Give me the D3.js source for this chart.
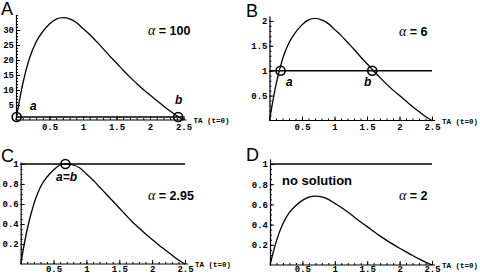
<!DOCTYPE html>
<html><head><meta charset="utf-8">
<script src="https://cdn.jsdelivr.net/npm/d3@7"></script>
<style>
html,body{margin:0;padding:0;background:#fff;}
svg{display:block;}
.tick text{font-family:"Liberation Mono","DejaVu Sans Mono",monospace;font-weight:bold;font-size:9px;fill:#000;}
</style></head>
<body>
<script>
// ---- data ----
const taValues = [0,0.1,0.2,0.3,0.4,0.5,0.6,0.7,0.8,0.9,1.0,1.1,1.2,1.3,1.4,1.5,1.6,1.7,1.8,1.9,2.0,2.1,2.2,2.3,2.4,2.5];
const seriesA = [0,12,20.5,26,29.5,32,33.6,34.1,33.7,32.5,30.5,28.5,26.2,23.8,21.3,19,16.6,14.3,12.2,10.2,8.3,6.5,4.7,3,1.4,0];
const seriesB = [0,0.72,1.23,1.56,1.77,1.92,2.02,2.05,2.02,1.95,1.83,1.71,1.57,1.43,1.28,1.14,1.0,0.86,0.73,0.61,0.5,0.39,0.28,0.18,0.08,0];
const seriesC = [0,0.35,0.6,0.77,0.87,0.94,0.99,1.0,0.99,0.96,0.9,0.84,0.77,0.7,0.63,0.56,0.49,0.42,0.36,0.3,0.245,0.19,0.14,0.09,0.04,0];
const seriesD = [0,0.24,0.41,0.52,0.59,0.64,0.672,0.682,0.674,0.65,0.61,0.57,0.524,0.476,0.426,0.38,0.332,0.286,0.244,0.204,0.166,0.13,0.094,0.06,0.028,0];
const panelLetters = ["A","B","C","D"];
const alphaValues = ["100","6","2.95","2"];
const thresholdValue = 1;
const xTickLabels = [0.5,1,1.5,2,2.5];
const yTicksA = [5,10,15,20,25,30];
const yTicksB = [0.5,1,1.5,2];
const yTicksCD = [0.2,0.4,0.6,0.8,1];
const markersA = [{x:0.01,y:1,t:"a"},{x:2.42,y:1,t:"b"}];
const markersB = [{x:0.17,y:1,t:"a"},{x:1.58,y:1,t:"b"}];
const markersC = [{x:0.68,y:1,t:"a=b"}];
const markersD = [];
const axisTitle = "TA (t=0)";

// ---- layout ----
const W = 480, H = 275;
const svg = d3.select("body").append("svg").attr("width",W).attr("height",H);

const panels = [
  {series:seriesA, yTicks:yTicksA, yMinor:1, yTop:35.2, markers:markersA,
   x0:16, x1:183.5, y0:120, y1:117, yVal1:1, lab:9.5,
   letter:[1,15], alpha:[148,35], mk:[[30,110],[175,104]], extra:null},
  {series:seriesB, yTicks:yTicksB, yMinor:0.1, yTop:2.1, markers:markersB,
   x0:269.5, x1:432, y0:120.5, y1:70.7, yVal1:1, lab:9,
   letter:[246,17], alpha:[399,36], mk:[[286,86],[364,86]], extra:null},
  {series:seriesC, yTicks:yTicksCD, yMinor:0.05, yTop:1.02, markers:markersC,
   x0:20.7, x1:185, y0:264, y1:164, yVal1:1, lab:7.5,
   letter:[1,162], alpha:[148,200], mk:[[56,181]], extra:null},
  {series:seriesD, yTicks:yTicksCD, yMinor:0.05, yTop:1.05, markers:markersD,
   x0:270, x1:432, y0:265, y1:164, yVal1:1, lab:7,
   letter:[246,161], alpha:[399,200], mk:[], extra:{text:"no solution", x:282, y:185}}
];

panels.forEach((p,i)=>{
  const x = d3.scaleLinear().domain([0,2.5]).range([p.x0,p.x1]);
  const pxPerUnit = (p.y0-p.y1)/p.yVal1;
  const y = d3.scaleLinear().domain([0,p.yTop]).range([p.y0, p.y0 - p.yTop*pxPerUnit]);
  const g = svg.append("g");

  // minor ticks x
  const xMinor = d3.range(0.1,2.51,0.1).map(v=>+v.toFixed(2));
  g.append("g").attr("transform",`translate(0,${p.y0})`)
    .call(d3.axisBottom(x).tickValues(xMinor).tickSize(-2).tickSizeOuter(0).tickFormat(""))
    .call(s=>s.select(".domain").remove());
  const xa = g.append("g").attr("transform",`translate(0,${p.y0})`)
    .call(d3.axisBottom(x).tickValues(xTickLabels).tickSize(-4).tickSizeOuter(0).tickFormat(d3.format("")));
  xa.select(".domain").attr("d",`M${p.x0},0H${p.x1+3}`).attr("stroke-width",1.2);
  xa.selectAll(".tick text").attr("dy",null).attr("y",p.lab).attr("font-size",8.5);

  // y minor ticks
  const yMin = d3.range(p.yMinor, p.yTop, p.yMinor).map(v=>+v.toFixed(3));
  g.append("g").attr("transform",`translate(${p.x0},0)`)
    .call(d3.axisLeft(y).tickValues(yMin).tickSize(-2).tickSizeOuter(0).tickFormat(""))
    .call(s=>s.select(".domain").remove());
  const ya = g.append("g").attr("transform",`translate(${p.x0},0)`)
    .call(d3.axisLeft(y).tickValues(p.yTicks).tickSize(-4).tickSizeOuter(0).tickFormat(d3.format("")).tickPadding(2));
  ya.select(".domain").attr("stroke-width",1.2);

  // threshold line
  g.append("line").attr("x1",x(0)).attr("x2",x(2.5)).attr("y1",y(thresholdValue)).attr("y2",y(thresholdValue))
    .attr("stroke","#000").attr("stroke-width",1.6);

  // curve
  const line = d3.line().x((d,j)=>x(taValues[j])).y(d=>y(d)).curve(d3.curveMonotoneX);
  g.append("path").datum(p.series).attr("d",line).attr("fill","none").attr("stroke","#000").attr("stroke-width",1.3);

  // markers
  p.markers.forEach((m,k)=>{
    g.append("circle").attr("cx",x(m.x)).attr("cy",y(m.y)).attr("r",4.5)
      .attr("fill","none").attr("stroke","#000").attr("stroke-width",1.6);
    g.append("text").attr("x",p.mk[k][0]).attr("y",p.mk[k][1]).text(m.t)
      .attr("font-family","Liberation Sans, Arial, sans-serif").attr("font-weight","bold")
      .attr("font-style","italic").attr("font-size",12);
  });

  // panel letter
  g.append("text").attr("x",p.letter[0]).attr("y",p.letter[1]).text(panelLetters[i])
    .attr("font-family","Liberation Sans, Arial, sans-serif").attr("font-size",18);

  // alpha label
  const t = g.append("text").attr("x",p.alpha[0]).attr("y",p.alpha[1])
    .attr("font-family","Liberation Sans, Arial, sans-serif").attr("font-weight","bold").attr("font-size",12.5);
  t.append("tspan").attr("font-family","Liberation Serif, Times New Roman, serif").attr("font-style","italic").attr("font-weight","normal").attr("font-size",14).text("α");
  t.append("tspan").text(" = " + alphaValues[i]);

  // axis title
  g.append("text").attr("x",p.x1+10).attr("y",p.y0+3).text(axisTitle)
    .attr("font-family","Liberation Mono, monospace").attr("font-weight","bold").attr("font-size",7.5);

  if(p.extra){
    g.append("text").attr("x",p.extra.x).attr("y",p.extra.y).text(p.extra.text)
      .attr("font-family","Liberation Sans, Arial, sans-serif").attr("font-weight","bold").attr("font-size",13);
  }
});
</script>
</body></html>
